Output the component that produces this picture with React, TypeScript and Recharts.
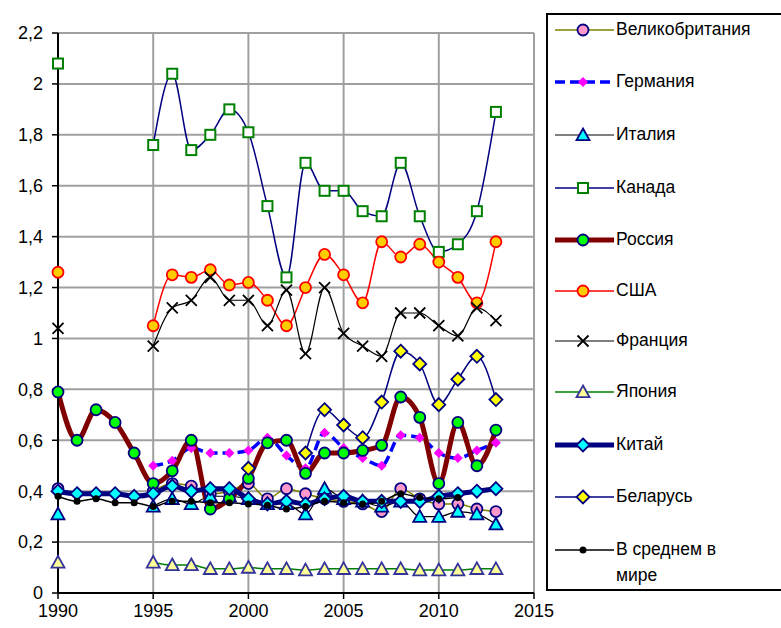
import React from "react";
import { LineChart, Line, XAxis, YAxis, CartesianGrid, Legend } from "recharts";

const years = [1990, 1991, 1992, 1993, 1994, 1995, 1996, 1997, 1998, 1999, 2000, 2001, 2002, 2003, 2004, 2005, 2006, 2007, 2008, 2009, 2010, 2011, 2012, 2013];

const uk = [0.41, null, null, null, null, 0.40, 0.43, 0.42, 0.39, 0.40, 0.43, 0.37, 0.41, 0.39, 0.37, 0.36, 0.35, 0.32, 0.41, 0.37, 0.35, 0.35, 0.33, 0.32];
const germany = [null, null, null, null, null, 0.50, 0.52, 0.57, 0.55, 0.55, 0.56, 0.61, 0.54, 0.49, 0.63, 0.57, 0.53, 0.50, 0.62, 0.61, 0.55, 0.53, 0.56, 0.59];
const italy = [0.31, null, null, null, null, 0.34, 0.37, 0.35, 0.38, 0.38, 0.37, 0.35, 0.35, 0.31, 0.41, 0.37, 0.36, 0.34, 0.36, 0.30, 0.30, 0.32, 0.31, 0.27];
const canada = [2.08, null, null, null, null, 1.76, 2.04, 1.74, 1.80, 1.90, 1.81, 1.52, 1.24, 1.69, 1.58, 1.58, 1.50, 1.48, 1.69, 1.48, 1.34, 1.37, 1.50, 1.89];
const russia = [0.79, 0.60, 0.72, 0.67, 0.55, 0.43, 0.48, 0.60, 0.33, 0.37, 0.45, 0.59, 0.60, 0.47, 0.55, 0.55, 0.56, 0.58, 0.77, 0.69, 0.43, 0.67, 0.50, 0.64];
const usa = [1.26, null, null, null, null, 1.05, 1.25, 1.24, 1.27, 1.21, 1.22, 1.15, 1.05, 1.20, 1.33, 1.25, 1.14, 1.38, 1.32, 1.37, 1.30, 1.24, 1.14, 1.38];
const france = [1.04, null, null, null, null, 0.97, 1.12, 1.15, 1.24, 1.15, 1.15, 1.05, 1.19, 0.94, 1.20, 1.02, 0.97, 0.93, 1.10, 1.10, 1.05, 1.01, 1.12, 1.07];
const japan = [0.12, null, null, null, null, 0.12, 0.11, 0.11, 0.095, 0.095, 0.10, 0.095, 0.095, 0.09, 0.095, 0.095, 0.095, 0.095, 0.095, 0.09, 0.09, 0.09, 0.095, 0.095];
const china = [0.40, 0.39, 0.39, 0.39, 0.38, 0.39, 0.42, 0.40, 0.41, 0.41, 0.37, 0.35, 0.36, 0.35, 0.37, 0.38, 0.36, 0.36, 0.36, 0.36, 0.38, 0.39, 0.40, 0.41];
const belarus = [null, null, null, null, null, null, null, null, null, null, 0.49, null, null, 0.55, 0.72, 0.66, 0.61, 0.75, 0.95, 0.90, 0.74, 0.84, 0.93, 0.76];
const world = [0.38, 0.36, 0.37, 0.355, 0.355, 0.34, 0.36, 0.36, 0.355, 0.355, 0.35, 0.345, 0.33, 0.34, 0.36, 0.355, 0.35, 0.36, 0.39, 0.375, 0.37, 0.375, null, null];

const xTicks = [1990, 1995, 2000, 2005, 2010, 2015];
const yTicks = [0, 0.2, 0.4, 0.6, 0.8, 1, 1.2, 1.4, 1.6, 1.8, 2, 2.2];

const data = years.map((year, i) => ({
  year,
  uk: uk[i],
  germany: germany[i],
  italy: italy[i],
  canada: canada[i],
  russia: russia[i],
  usa: usa[i],
  france: france[i],
  japan: japan[i],
  china: china[i],
  belarus: belarus[i],
  world: world[i],
}));

type Shape = "circle" | "diamond" | "triangle" | "square" | "cross" | "dot";

interface SeriesDef {
  key: string;
  name: string;
  color: string;
  width: number;
  dash?: string;
  shape: Shape;
  fill: string;
  stroke: string;
  size: number;
}

const series: SeriesDef[] = [
  { key: "uk", name: "Великобритания", color: "#808000", width: 1.5, shape: "circle", fill: "#FF99CC", stroke: "#000080", size: 5.5 },
  { key: "germany", name: "Германия", color: "#0000FF", width: 3.5, dash: "10 5", shape: "diamond", fill: "#FF00FF", stroke: "none", size: 5 },
  { key: "italy", name: "Италия", color: "#000000", width: 1.2, shape: "triangle", fill: "#00FFFF", stroke: "#000080", size: 6.5 },
  { key: "canada", name: "Канада", color: "#000080", width: 1.5, shape: "square", fill: "#FFFFFF", stroke: "#008000", size: 5 },
  { key: "russia", name: "Россия", color: "#800000", width: 5, shape: "circle", fill: "#00FF00", stroke: "#000080", size: 5.5 },
  { key: "usa", name: "США", color: "#FF0000", width: 1.5, shape: "circle", fill: "#FFCC00", stroke: "#FF0000", size: 5.5 },
  { key: "france", name: "Франция", color: "#000000", width: 1.2, shape: "cross", fill: "none", stroke: "#000000", size: 5.5 },
  { key: "japan", name: "Япония", color: "#008000", width: 1.5, shape: "triangle", fill: "#FFFF99", stroke: "#333399", size: 6.5 },
  { key: "china", name: "Китай", color: "#000080", width: 5, shape: "diamond", fill: "#00FFFF", stroke: "#000080", size: 6.5 },
  { key: "belarus", name: "Беларусь", color: "#000080", width: 1.5, shape: "diamond", fill: "#FFFF00", stroke: "#000080", size: 6.5 },
  { key: "world", name: "В среднем в мире", color: "#000000", width: 1.5, shape: "dot", fill: "#000000", stroke: "#000000", size: 3.5 },
];

const FONT = '"Liberation Sans", Arial, sans-serif';

function marker(s: SeriesDef, x: number, y: number, key?: any) {
  const r = s.size;
  switch (s.shape) {
    case "circle":
      return <circle key={key} cx={x} cy={y} r={r} fill={s.fill} stroke={s.stroke} strokeWidth={1.8} />;
    case "dot":
      return <circle key={key} cx={x} cy={y} r={r} fill={s.fill} />;
    case "square":
      return <rect key={key} x={x - r} y={y - r} width={r * 2} height={r * 2} fill={s.fill} stroke={s.stroke} strokeWidth={2} />;
    case "diamond":
      return (
        <polygon
          key={key}
          points={`${x},${y - r} ${x + r},${y} ${x},${y + r} ${x - r},${y}`}
          fill={s.fill}
          stroke={s.stroke}
          strokeWidth={1.8}
        />
      );
    case "triangle":
      return (
        <polygon
          key={key}
          points={`${x},${y - r} ${x + r},${y + r * 0.8} ${x - r},${y + r * 0.8}`}
          fill={s.fill}
          stroke={s.stroke}
          strokeWidth={1.8}
        />
      );
    case "cross":
      return (
        <path
          key={key}
          d={`M${x - r},${y - r}L${x + r},${y + r}M${x + r},${y - r}L${x - r},${y + r}`}
          stroke={s.stroke}
          strokeWidth={1.8}
        />
      );
  }
  return <g key={key} />;
}

const makeDot = (s: SeriesDef) => (props: any) => {
  const { cx, cy, index, value } = props;
  if (cx == null || cy == null || value == null || Number.isNaN(cy)) return <g key={`${s.key}-${index}`} />;
  return marker(s, cx, cy, `${s.key}-${index}`);
};

const fmt = (v: number) => String(Math.round(v * 10) / 10).replace(".", ",");

const rowCenters = [15, 67, 120, 173, 225, 276, 326, 377, 430, 482, 535];

const LegendBox = () => (
  <div
    style={{
      position: "relative",
      width: 240,
      height: 578,
      border: "2px solid #000",
      boxSizing: "border-box",
      background: "#fff",
      fontFamily: FONT,
      fontSize: 17.5,
      color: "#000",
    }}
  >
    {series.map((s, i) => (
      <div key={s.key} style={{ position: "absolute", left: 0, top: rowCenters[i] - 13, width: 240, height: 26 }}>
        <svg width={68} height={26} style={{ position: "absolute", left: 5, top: 0 }}>
          <line x1={2} y1={13} x2={61} y2={13} stroke={s.color} strokeWidth={s.width} strokeDasharray={s.dash} />
          {marker(s, 30, 13)}
        </svg>
        <div style={{ position: "absolute", left: 68, top: -1, lineHeight: "26px", width: 170, whiteSpace: "normal" }}>
          {s.key === "world" ? (
            <>
              В среднем в
              <br />
              мире
            </>
          ) : (
            s.name
          )}
        </div>
      </div>
    ))}
  </div>
);

export default function App() {
  return (
    <div style={{ position: "absolute", left: 0, top: 0, width: 781, height: 628, background: "#fff", overflow: "hidden" }}>
      <LineChart width={781} height={628} data={data} margin={{ top: 33, right: 247, bottom: 0, left: 0 }}>
        <CartesianGrid stroke="#a0a0a0" strokeWidth={2} />
        <XAxis
          dataKey="year"
          type="number"
          domain={[1990, 2015]}
          ticks={xTicks}
          height={35}
          axisLine={{ stroke: "#000", strokeWidth: 2 }}
          tickLine={{ stroke: "#000", strokeWidth: 1.5 }}
          tickSize={6}
          tickMargin={5}
          tick={{ fill: "#000", fontSize: 18, fontFamily: FONT }}
          interval={0}
        />
        <YAxis
          type="number"
          domain={[0, 2.2]}
          ticks={yTicks}
          width={58}
          allowDataOverflow
          axisLine={{ stroke: "#000", strokeWidth: 2 }}
          tickLine={{ stroke: "#000", strokeWidth: 1.5 }}
          tickSize={6}
          tickMargin={9}
          tickFormatter={fmt}
          tick={{ fill: "#000", fontSize: 18, fontFamily: FONT }}
          interval={0}
        />
        <Legend
          layout="horizontal"
          verticalAlign="middle"
          align="center"
          content={() => <LegendBox />}
          wrapperStyle={{ left: 546, top: 13, width: 240, height: 578 }}
        />
        {series.map((s) => (
          <Line
            key={s.key}
            dataKey={s.key}
            name={s.name}
            type="monotone"
            stroke={s.color}
            strokeWidth={s.width}
            strokeDasharray={s.dash}
            dot={makeDot(s)}
            activeDot={false}
            connectNulls={false}
            isAnimationActive={false}
          />
        ))}
      </LineChart>
    </div>
  );
}
